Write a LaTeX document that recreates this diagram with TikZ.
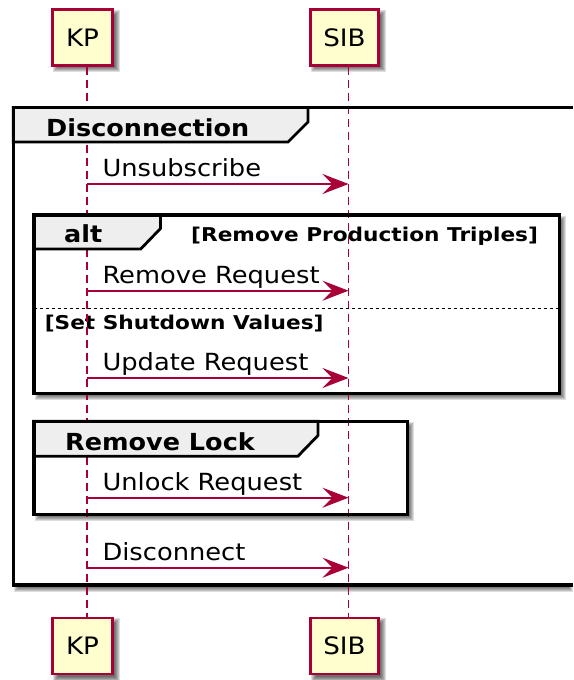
\documentclass[tikz,border=0pt]{standalone}
\usepackage{fontspec}
\setmainfont{DejaVu Sans}[FakeStretch=1.09]
\newfontfamily\guardfont{DejaVu Sans}[FakeStretch=1.14]
\newfontfamily\titlefont{DejaVu Sans}[FakeStretch=1.085]
\usetikzlibrary{arrows.meta,calc}

\definecolor{umlred}{HTML}{A80036}
\definecolor{partfill}{HTML}{FEFECE}
\definecolor{tabfill}{HTML}{EEEEEE}

% soft drop shadow under a rectangle given by its corners
\newcommand\softshade[4]{%
  \foreach \sk in {0,1,...,5}{%
    \fill[black,opacity=0.13] ({#1+1+\sk},{#2+1+\sk}) rectangle ({#3+7-\sk},{#4+7-\sk});
  }}

\tikzset{
  participant/.style={draw=umlred, line width=2.8pt, fill=partfill, inner sep=0pt,
    minimum height=56pt, font=\fontsize{24}{28}\selectfont},
  lifeline/.style={draw=umlred, line width=1.8pt, dash pattern=on 8pt off 5pt},
  message/.style={draw=umlred, line width=2pt,
    -{Stealth[length=26pt,width=20pt,inset=10pt,color=umlred]}},
  msgtext/.style={anchor=base west, inner sep=0pt, font=\fontsize{23.6}{27}\selectfont},
  frameline/.style={draw=black, line width=3.6pt},
  tabshape/.style={draw=black, line width=2.8pt, fill=tabfill, line join=miter},
  grouptitle/.style={anchor=base west, inner sep=0pt, font=\titlefont\fontsize{23.5}{27}\selectfont\bfseries},
  guard/.style={anchor=base west, inner sep=0pt, font=\guardfont\fontsize{19}{22}\selectfont\bfseries},
  elsesep/.style={draw=black, line width=1.4pt, dash pattern=on 3pt off 3pt},
}

\begin{document}
\begin{tikzpicture}[x=1pt,y=-1pt]
\useasboundingbox (0,0) rectangle (573,680);
\fill[white] (0,0) rectangle (573,680);

% lifeline positions
\coordinate (kpx) at (87,0);
\coordinate (sibx) at (348.5,0);

% participant shadows and boxes
\softshade{52.3}{9.3}{112.7}{65.3}
\softshade{310.3}{9.3}{378.7}{65.3}
\softshade{52.3}{617.3}{112.7}{674.7}
\softshade{310.3}{617.3}{378.7}{674.7}
\node[participant, minimum width=60.4pt] (kpT) at (82.5,37.3) {KP};
\node[participant, minimum width=68.4pt] (sibT) at (344.5,37.3) {SIB};
\node[participant, minimum width=60.4pt] (kpB) at (82.5,646) {KP};
\node[participant, minimum width=68.4pt] (sibB) at (344.5,646) {SIB};

% group frames: shadows and white bodies
\softshade{13.3}{500}{566}{585}
\fill[white] (13.3,107.5) rectangle (573,585);
\softshade{33.8}{215}{559.4}{393.3}
\fill[white] (33.8,215) rectangle (559.4,393.3);
\softshade{33.8}{421.3}{407.3}{514.3}
\fill[white] (33.8,421.3) rectangle (407.3,514.3);

% guards of the alt block
\node[guard] (g1) at (191,241) {[Remove Production Triples]};
\node[guard] (g2) at (44.6,329.3) {[Set Shutdown Values]};

% lifelines
\draw[lifeline] (kpT.south -| kpx) -- (kpB.north -| kpx);
\draw[lifeline] (sibT.south -| sibx) -- (sibB.north -| sibx);

% Disconnection group (its right side runs past the page edge)
\draw[tabshape] (13.3,107.5) -- (308,107.5) -- (308,122) -- (288,142) -- (13.3,142) -- cycle;
\draw[frameline] (573,107.5) -- (13.3,107.5) -- (13.3,585) -- (573,585);
\node[grouptitle] (t1) at (46,136.7) {Disconnection};

% alt group
\draw[tabshape] (33.8,215) -- (160.5,215) -- (160.5,228.5) -- (140.7,249) -- (33.8,249) -- cycle;
\draw[frameline] (33.8,215) rectangle (559.4,393.3);
\node[grouptitle] (t2) at (64,242.3) {alt};
\draw[elsesep] (33.8,308.3) -- (559.4,308.3);

% Remove Lock group
\draw[tabshape] (33.8,421.3) -- (318,421.3) -- (318,435.5) -- (297.8,456.3) -- (33.8,456.3) -- cycle;
\draw[frameline] (33.8,421.3) rectangle (407.3,514.3);
\node[grouptitle] (t3) at (65,450) {Remove Lock};

% message end points
\coordinate (a1) at (kpx |- 0,184);   \coordinate (b1) at (sibx |- 0,184);
\coordinate (a2) at (kpx |- 0,290.7); \coordinate (b2) at (sibx |- 0,290.7);
\coordinate (a3) at (kpx |- 0,378);   \coordinate (b3) at (sibx |- 0,378);
\coordinate (a4) at (kpx |- 0,497.7); \coordinate (b4) at (sibx |- 0,497.7);
\coordinate (a5) at (kpx |- 0,567.7); \coordinate (b5) at (sibx |- 0,567.7);

% messages
\node[msgtext] (m1) at (102.3,176.5) {Unsubscribe};
\node[msgtext] (m2) at (102.3,283) {Remove Request};
\node[msgtext] (m3) at (102.3,370.3) {Update Request};
\node[msgtext] (m4) at (102.3,490) {Unlock Request};
\node[msgtext] (m5) at (102.3,560) {Disconnect};
\draw[message] (a1) -- (b1);
\draw[message] (a2) -- (b2);
\draw[message] (a3) -- (b3);
\draw[message] (a4) -- (b4);
\draw[message] (a5) -- (b5);
\end{tikzpicture}
\end{document}
